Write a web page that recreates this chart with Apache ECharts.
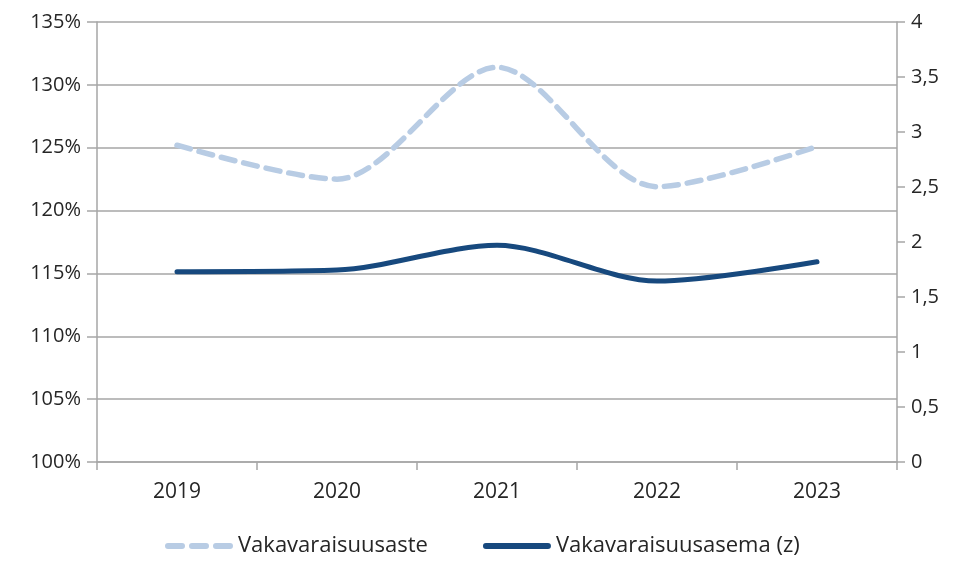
<!DOCTYPE html>
<html>
<head>
<meta charset="utf-8">
<script src="https://cdn.jsdelivr.net/npm/echarts@6/dist/echarts.min.js"></script>
<style>
  html, body { margin: 0; padding: 0; background: #fff; }
  #chart { width: 957px; height: 562px; }
</style>
</head>
<body>
<div id="chart"></div>
<script>
// vuodet
const years = ['2019', '2020', '2021', '2022', '2023'];
// vakavaraisuusaste (%), vasen akseli
const solvencyRatio = [125.2, 122.5, 131.4, 121.9, 125.1];
// vakavaraisuusasema (z), oikea akseli
const solvencyPosition = [1.73, 1.745, 1.97, 1.645, 1.82];

const font = '"Open Sans", Lato, sans-serif';
const gray = '#a6a6a6';
const txt = '#262626';

const chart = echarts.init(document.getElementById('chart'));
chart.setOption({
  animation: false,
  grid: { left: 97, right: 60, top: 22, bottom: 100 },
  legend: {
    bottom: 0,
    left: 160,
    itemWidth: 68,
    itemHeight: 7,
    itemGap: 55,
    textStyle: { fontFamily: font, fontSize: 22, color: txt },
    data: [
      { name: 'Vakavaraisuusaste', icon: 'path://M3,0 L17,0 A3,3 0 0 1 17,6 L3,6 A3,3 0 0 1 3,0 Z M27,0 L41,0 A3,3 0 0 1 41,6 L27,6 A3,3 0 0 1 27,0 Z M51,0 L65,0 A3,3 0 0 1 65,6 L51,6 A3,3 0 0 1 51,0 Z' },
      { name: 'Vakavaraisuusasema (z)', icon: 'path://M3,0 L65,0 A3,3 0 0 1 65,6 L3,6 A3,3 0 0 1 3,0 Z' }
    ]
  },
  xAxis: {
    type: 'category',
    data: years,
    boundaryGap: true,
    axisLine: { lineStyle: { color: gray, width: 1.5 } },
    axisTick: { show: true, length: 8, lineStyle: { color: gray, width: 1.5 } },
    axisLabel: { fontFamily: font, fontSize: 21, color: txt, margin: 20 }
  },
  yAxis: [
    {
      type: 'value',
      min: 100, max: 135, interval: 5,
      axisLine: { show: true, lineStyle: { color: gray, width: 1.5 } },
      axisTick: { show: true, length: 10, lineStyle: { color: gray, width: 1.5 } },
      splitLine: { lineStyle: { color: gray, width: 1.5 } },
      axisLabel: { fontFamily: font, fontSize: 20, color: txt, margin: 16, formatter: v => v + '%' }
    },
    {
      type: 'value',
      min: 0, max: 4, interval: 0.5,
      axisLine: { show: true, lineStyle: { color: gray, width: 1.5 } },
      axisTick: { show: true, length: 8, lineStyle: { color: gray, width: 1.5 } },
      splitLine: { show: false },
      axisLabel: { fontFamily: font, fontSize: 20, color: txt, margin: 14, formatter: v => String(v).replace('.', ',') }
    }
  ],
  series: [
    {
      name: 'Vakavaraisuusaste',
      type: 'line',
      yAxisIndex: 0,
      data: solvencyRatio,
      smooth: 0.3,
      symbol: 'none',
      color: '#b8cce4',
      lineStyle: { color: '#b8cce4', width: 5.5, type: [14, 9], cap: 'round' }
    },
    {
      name: 'Vakavaraisuusasema (z)',
      type: 'line',
      yAxisIndex: 1,
      data: solvencyPosition,
      smooth: 0.3,
      symbol: 'none',
      color: '#17497e',
      lineStyle: { color: '#17497e', width: 5, cap: 'round' }
    }
  ]
});
</script>
</body>
</html>
